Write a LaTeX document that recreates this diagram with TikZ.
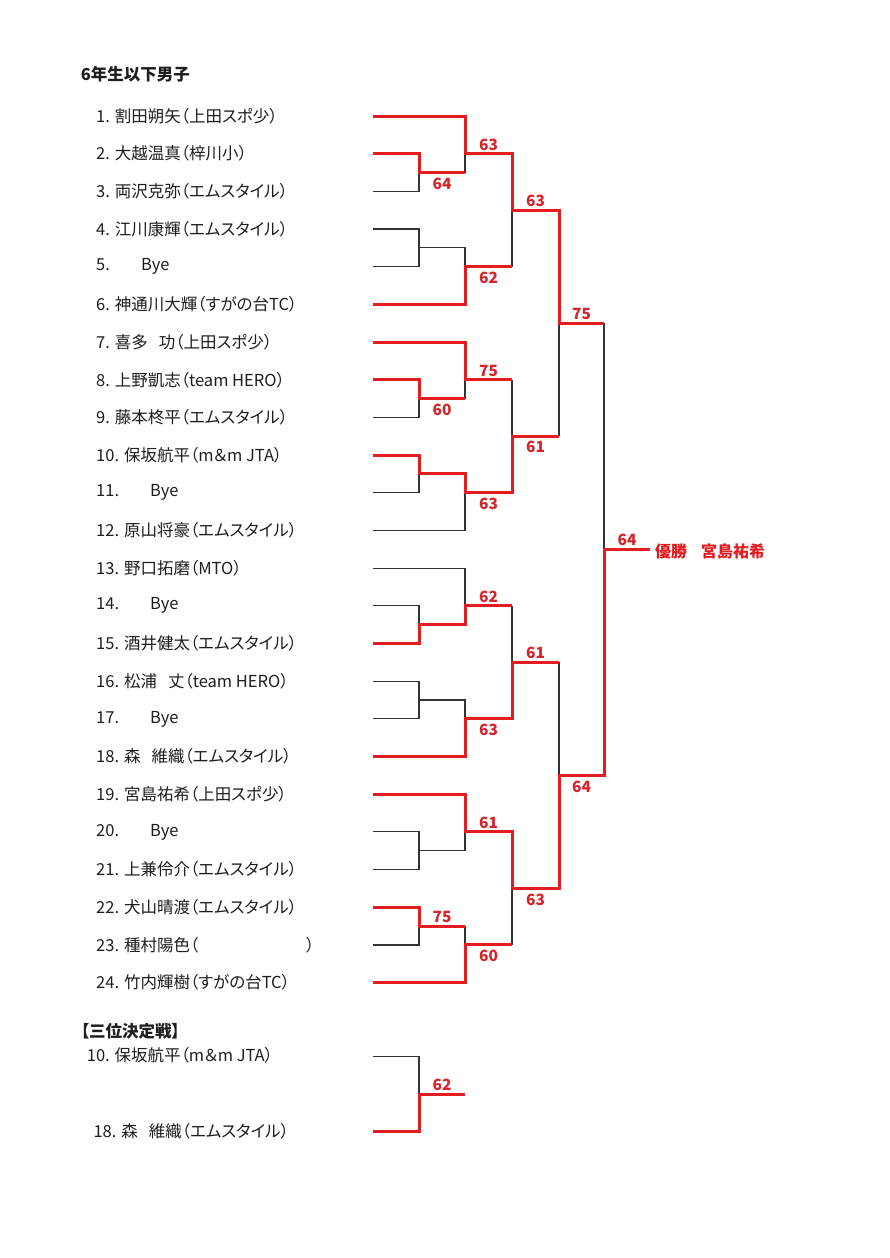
\documentclass[tikz,border=0pt]{standalone}
\usepackage{fontspec}
\setmainfont{Noto Sans CJK JP}[RawFeature={+palt}]
\definecolor{wred}{RGB}{228,28,32}
\definecolor{sred}{RGB}{214,36,42}
\definecolor{ink}{RGB}{30,30,30}
\tikzset{
  blk/.style={draw=black!80, line width=1.1pt},
  redl/.style={draw=wred, line width=3pt, line join=miter},
  plname/.style={anchor=west, inner sep=0pt, font=\fontsize{16.5}{19}\selectfont, text=ink},
  score/.style={font=\bfseries\fontsize{15.5}{18}\selectfont, text=sred, inner sep=0pt},
  sab/.style={score, midway, yshift=9pt},
  sbe/.style={score, midway, yshift=-11pt},
  head/.style={anchor=west, inner sep=0pt, font=\bfseries\fontsize{16.5}{19}\selectfont, text=ink},
  champ/.style={anchor=west, inner sep=0pt, font=\bfseries\fontsize{16}{19}\selectfont, text=wred}
}
\newcommand{\isp}{\hspace{11pt}}
\begin{document}
\begin{tikzpicture}[x=1pt, y=-1pt]
\fill[white] (0,0) rectangle (890,1258);
\useasboundingbox (0,0) rectangle (890,1258);

% grid of junction coordinates: g<column>-<2*row>
\foreach \c/\x in {0/373,1/419,2/465,3/512,4/559,5/604,6/650}{
  \foreach \h in {2,...,49}{
    \coordinate (g\c-\h) at (\x,{116+18.84*(\h-2)});
  }
}

% titles
\node[head] (title) at (80.7,74) {6年生以下男子};
\node[head] (third) at (80.7,1031) {【三位決定戦】};

% player names
\foreach \i/\t in {
  1/{1. 割田朔矢（上田スポ少）},
  2/{2. 大越温真（梓川小）},
  3/{3. 両沢克弥（エムスタイル）},
  4/{4. 江川康輝（エムスタイル）},
  5/{\makebox[45pt][l]{5.}Bye},
  6/{6. 神通川大輝（すがの台TC）},
  7/{7. 喜多\isp 功（上田スポ少）},
  8/{8. 上野凱志（team HERO）},
  9/{9. 藤本柊平（エムスタイル）},
  10/{10. 保坂航平（m＆m JTA）},
  11/{\makebox[54pt][l]{11.}Bye},
  12/{12. 原山将豪（エムスタイル）},
  13/{13. 野口拓磨（MTO）},
  14/{\makebox[54pt][l]{14.}Bye},
  15/{15. 酒井健太（エムスタイル）},
  16/{16. 松浦\isp 丈（team HERO）},
  17/{\makebox[54pt][l]{17.}Bye},
  18/{18. 森\isp 維織（エムスタイル）},
  19/{19. 宮島祐希（上田スポ少）},
  20/{\makebox[54pt][l]{20.}Bye},
  21/{21. 上兼伶介（エムスタイル）},
  22/{22. 犬山晴渡（エムスタイル）},
  23/{23. 種村陽色（\hspace{108pt}）},
  24/{24. 竹内輝樹（すがの台TC）}}{
  \node[plname] (n\i) at (96,{116+37.68*(\i-1)}) {\t};
}

% ---------- black (losing) lines ----------
\draw[blk] (g0-6) -- (g1-6) -- (g1-5);
\draw[blk] (g2-4) -- (g2-5);
\draw[blk] (g0-8) -- (g1-8) -- (g1-10) -- (g0-10);
\draw[blk] (g1-9) -- (g2-9) -- (g2-10);
\draw[blk] (g3-7) -- (g3-10);
\draw[blk] (g0-18) -- (g1-18) -- (g1-17);
\draw[blk] (g2-16) -- (g2-17);
\draw[blk] (g0-22) -- (g1-22) -- (g1-21);
\draw[blk] (g0-24) -- (g2-24) -- (g2-22);
\draw[blk] (g3-16) -- (g3-19);
\draw[blk] (g4-13) -- (g4-19);
\draw[blk] (g0-26) -- (g2-26) -- (g2-28);
\draw[blk] (g0-28) -- (g1-28) -- (g1-29);
\draw[blk] (g0-32) -- (g1-32) -- (g1-34) -- (g0-34);
\draw[blk] (g1-33) -- (g2-33) -- (g2-34);
\draw[blk] (g3-28) -- (g3-31);
\draw[blk] (g0-40) -- (g1-40) -- (g1-42) -- (g0-42);
\draw[blk] (g1-41) -- (g2-41) -- (g2-40);
\draw[blk] (g0-46) -- (g1-46) -- (g1-45);
\draw[blk] (g2-45) -- (g2-46);
\draw[blk] (g3-43) -- (g3-46);
\draw[blk] (g4-31) -- (g4-37);
\draw[blk] (g5-13) -- (g5-25);

% ---------- red (winning) lines ----------
\draw[redl] (g0-2) -- (g2-2) -- (g2-4) -- (g3-4) -- (g3-7) -- (g4-7) -- (g4-13) -- (g5-13);
\draw[redl] (g0-4) -- (g1-4) -- (g1-5) -- (g2-5);
\draw[redl] (g0-12) -- (g2-12) -- (g2-10) -- (g3-10);
\draw[redl] (g0-14) -- (g2-14) -- (g2-16) -- (g3-16);
\draw[redl] (g0-16) -- (g1-16) -- (g1-17) -- (g2-17);
\draw[redl] (g0-20) -- (g1-20) -- (g1-21) -- (g2-21) -- (g2-22) -- (g3-22) -- (g3-19) -- (g4-19);
\draw[redl] (g0-30) -- (g1-30) -- (g1-29) -- (g2-29) -- (g2-28) -- (g3-28);
\draw[redl] (g0-36) -- (g2-36) -- (g2-34) -- (g3-34) -- (g3-31) -- (g4-31);
\draw[redl] (g0-38) -- (g2-38) -- (g2-40) -- (g3-40) -- (g3-43) -- (g4-43) -- (g4-37) -- (g5-37) -- (g5-25) -- (g6-25);
\draw[redl] (g0-44) -- (g1-44) -- (g1-45) -- (g2-45);
\draw[redl] (g0-48) -- (g2-48) -- (g2-46) -- (g3-46);

% ---------- scores ----------
\path (g1-5) -- (g2-5) node[sbe] (s1) {64};
\path (g2-4) -- (g3-4) node[sab] (s2) {63};
\path (g2-10) -- (g3-10) node[sbe] (s3) {62};
\path (g3-7) -- (g4-7) node[sab] (s4) {63};
\path (g1-17) -- (g2-17) node[sbe] (s5) {60};
\path (g2-16) -- (g3-16) node[sab] (s6) {75};
\path (g2-22) -- (g3-22) node[sbe] (s7) {63};
\path (g3-19) -- (g4-19) node[sbe] (s8) {61};
\path (g4-13) -- (g5-13) node[sab] (s9) {75};
\path (g2-28) -- (g3-28) node[sab] (s10) {62};
\path (g2-34) -- (g3-34) node[sbe] (s11) {63};
\path (g3-31) -- (g4-31) node[sab] (s12) {61};
\path (g2-40) -- (g3-40) node[sab] (s13) {61};
\path (g1-45) -- (g2-45) node[sab] (s14) {75};
\path (g2-46) -- (g3-46) node[sbe] (s15) {60};
\path (g3-43) -- (g4-43) node[sbe] (s16) {63};
\path (g4-37) -- (g5-37) node[sbe] (s17) {64};
\path (g5-25) -- (g6-25) node[sab] (s18) {64};

% champion
\node[champ] (win) at (655,551) {優勝\hspace{14pt}宮島祐希};

% ---------- third place match ----------
\coordinate (t0a) at (373,1056.7);
\coordinate (t1a) at (419,1056.7);
\coordinate (t1m) at (419,1094);
\coordinate (t2m) at (465,1094);
\coordinate (t0b) at (373,1131.7);
\coordinate (t1b) at (419,1131.7);
\node[plname] (tp1) at (86.7,1055.5) {10. 保坂航平（m＆m JTA）};
\node[plname] (tp2) at (93.3,1131.7) {18. 森\isp 維織（エムスタイル）};
\draw[blk] (t0a) -- (t1a) -- (t1m);
\draw[redl] (t0b) -- (t1b) -- (t1m) -- (t2m);
\path (t1m) -- (t2m) node[sab] (s19) {62};
\end{tikzpicture}
\end{document}
